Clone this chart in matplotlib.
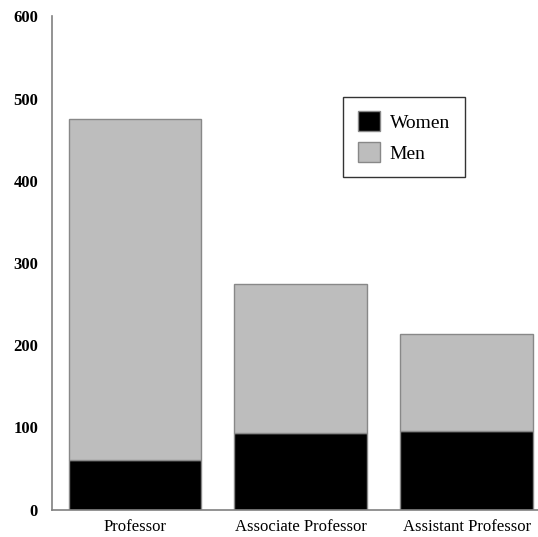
import matplotlib
matplotlib.use('Agg')
import matplotlib.pyplot as plt
import numpy as np

# data
ranks = ['Professor', 'Associate Professor', 'Assistant Professor']
women = [60, 93, 96]
men = [415, 182, 117]

plt.rcParams['font.family'] = ['Liberation Serif', 'DejaVu Serif']

fig = plt.figure(figsize=(5.38, 5.37), dpi=100)
ax = fig.add_axes([52 / 538, 27.5 / 537, 486 / 538, 493 / 537])

x = np.arange(len(ranks))
ax.bar(x, women, width=0.8, color='black', edgecolor='#888888', linewidth=1, label='Women')
ax.bar(x, men, width=0.8, bottom=women, color='#bdbdbd', edgecolor='#888888',
       linewidth=1, label='Men')

ax.set_xlim(-0.5, 2.43)
ax.set_ylim(0, 600)
ax.set_yticks(range(0, 601, 100))
ax.set_xticks(x)
ax.set_xticklabels(ranks, fontsize=12)
for lbl in ax.get_yticklabels():
    lbl.set_fontsize(12)
    lbl.set_fontweight('bold')

ax.tick_params(axis='both', length=0)
ax.tick_params(axis='y', pad=10)
ax.tick_params(axis='x', pad=6.5)

for side in ['top', 'right']:
    ax.spines[side].set_visible(False)
for side in ['left', 'bottom']:
    ax.spines[side].set_color('#808080')
    ax.spines[side].set_linewidth(1.2)

# legend box: roughly x 343-465 px, top at 97 px
leg = ax.legend(loc='upper left', bbox_to_anchor=(0.599, 0.837), borderaxespad=0,
                fontsize=14, frameon=True, fancybox=False,
                handlelength=1.15, handleheight=1.15, handletextpad=0.5,
                borderpad=0.75, labelspacing=0.55)
leg.get_frame().set_edgecolor('black')
leg.get_frame().set_linewidth(1)

fig.savefig('out.png', dpi=100, facecolor='white')
